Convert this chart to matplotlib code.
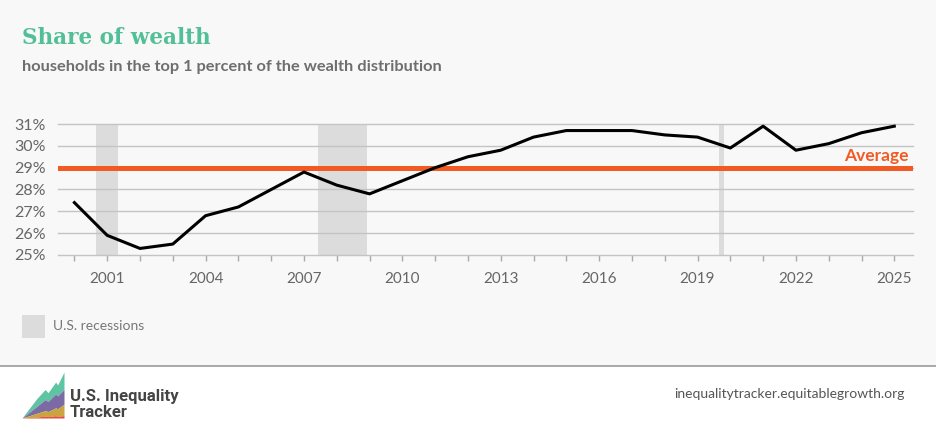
import numpy as np
import matplotlib.pyplot as plt
from matplotlib.patches import Rectangle
from matplotlib.lines import Line2D

# data
years = list(range(2000, 2026))
share = [27.4, 25.9, 25.3, 25.5, 26.8, 27.2, 28.0, 28.8, 28.2, 27.8,
         28.4, 29.0, 29.5, 29.8, 30.4, 30.7, 30.7, 30.7, 30.5, 30.4,
         29.9, 30.9, 29.8, 30.1, 30.6, 30.9]
average = 28.97
recession_start = [2000.67, 2007.43, 2019.64]
recession_end = [2001.33, 2008.93, 2019.80]
tick_years = [2001, 2004, 2007, 2010, 2013, 2016, 2019, 2022, 2025]
pct_ticks = [25, 26, 27, 28, 29, 30, 31]

W, H = 936, 424
BG = '#f8f8f8'
GREEN = '#52bf98'
ORANGE = '#f25a24'
REC = '#dcdcdc'

fig = plt.figure(figsize=(W / 100, H / 100), dpi=100)
fig.patch.set_facecolor('white')

# grey upper panel
fig.add_artist(Rectangle((0, 1 - 366 / H), 1, 366 / H, transform=fig.transFigure,
                         facecolor=BG, edgecolor='none', zorder=0))
fig.add_artist(Line2D([0, 1], [1 - 366 / H] * 2, transform=fig.transFigure,
                      color='#9a9a9a', lw=1.2))

ax = fig.add_axes([58 / W, 1 - 255 / H, (913 - 58) / W, (255 - 124) / H])
ax.set_facecolor(BG)
ax.set_xlim(1999.5, 2025.57)
ax.set_ylim(25, 31)

for s, e in zip(recession_start, recession_end):
    ax.axvspan(s, e, color=REC, lw=0, zorder=1)

for v in pct_ticks:
    ax.axhline(v, color='#c4c4c4', lw=1, zorder=2, clip_on=False)

ax.axhline(average, color=ORANGE, lw=3.6, zorder=3)
ax.text(2025.45, average + 0.2, 'Average', color=ORANGE, fontsize=12.5,
        fontweight='bold', ha='right', va='bottom', family='Lato', zorder=4)

ax.plot(years, share, color='black', lw=2.2, zorder=5, clip_on=False)

for sp in ax.spines.values():
    sp.set_visible(False)

ax.set_yticks(pct_ticks)
ax.set_yticklabels([f'{v}%' for v in pct_ticks])
ax.set_xticks(tick_years)
ax.set_xticklabels([str(y) for y in tick_years])
ax.set_xticks(years, minor=True)
ax.tick_params(axis='y', length=0, pad=9, labelsize=11.5, labelcolor='#666666')
ax.tick_params(axis='x', which='both', length=4, width=1, color='#aaaaaa',
               pad=8, labelsize=11, labelcolor='#666666')
for lab in ax.get_xticklabels() + ax.get_yticklabels():
    lab.set_family('Lato')

# titles
fig.text(22 / W, 1 - 38 / H, 'Share of wealth', color=GREEN, fontsize=15.5,
         fontweight='bold', family='DejaVu Serif', va='center', ha='left')
fig.text(22 / W, 1 - 67 / H, 'households in the top 1 percent of the wealth distribution',
         color='#6e6e6e', fontsize=11.8, fontweight='bold', family='Lato',
         va='center', ha='left')

# legend
fig.add_artist(Rectangle((22 / W, 1 - 338 / H), 23 / W, 23 / H,
                         transform=fig.transFigure, facecolor=REC, edgecolor='none'))
fig.text(53 / W, 1 - 326 / H, 'U.S. recessions', color='#777777', fontsize=10,
         family='Lato', va='center', ha='left')

# footer logo
lax = fig.add_axes([22 / W, 1 - 418 / H, 42 / W, 46 / H])
lax.set_xlim(0, 1)
lax.set_ylim(0, 1)
lax.axis('off')
lx = [0, 0.35, 0.55, 0.62, 0.8, 0.85, 1.0]
top1 = [0, 0.42, 0.62, 0.55, 0.78, 0.72, 1.0]
top2 = [0, 0.25, 0.40, 0.36, 0.52, 0.48, 0.62]
top3 = [0, 0.10, 0.16, 0.14, 0.22, 0.20, 0.30]
top4 = [0, 0.02, 0.04, 0.03, 0.05, 0.04, 0.05]
lax.fill_between(lx, top2, top1, color='#5fc4a3', lw=0)
lax.fill_between(lx, top3, top2, color='#7b6aa4', lw=0)
lax.fill_between(lx, top4, top3, color='#c9a43f', lw=0)
lax.fill_between(lx, 0, top4, color='#e0503a', lw=0)

fig.text(70 / W, 1 - 401 / H, 'U.S. Inequality', color='#444444', fontsize=12,
         fontweight='bold', family='Roboto', va='baseline', ha='left')
fig.text(70 / W, 1 - 417 / H, 'Tracker', color='#444444', fontsize=12,
         fontweight='bold', family='Roboto', va='baseline', ha='left')
fig.text(905 / W, 1 - 394 / H, 'inequalitytracker.equitablegrowth.org', color='#555555',
         fontsize=10, family='Lato', va='center', ha='right')

fig.savefig('out.png', dpi=100, facecolor=fig.get_facecolor())
